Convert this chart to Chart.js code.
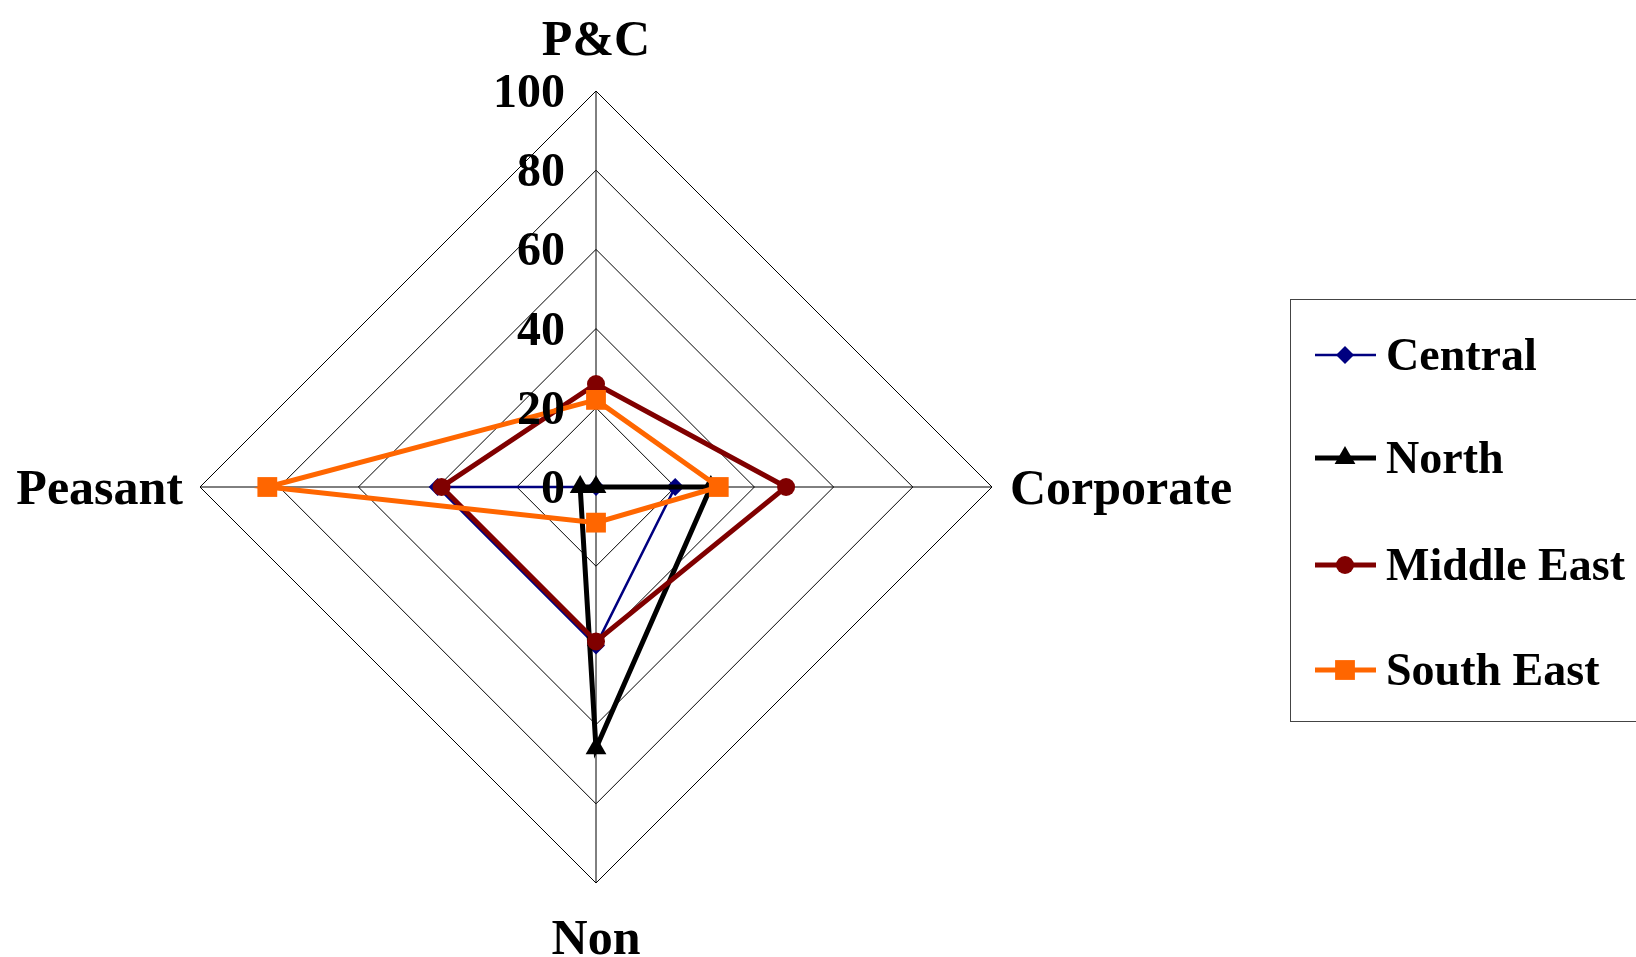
<!DOCTYPE html>
<html>
<head>
<meta charset="utf-8">
<script src="https://cdn.jsdelivr.net/npm/chart.js@4/dist/chart.umd.min.js"></script>
<style>
  html, body { margin: 0; padding: 0; background: #fff; }
  #wrap { width: 1636px; height: 957px; }
</style>
</head>
<body>
<div id="wrap"><canvas id="radar" width="1636" height="957"></canvas></div>
<script>
// axes, clockwise from the top
const categories = ['P&C', 'Corporate', 'Non', 'Peasant'];
const tickValues = [0, 20, 40, 60, 80, 100];

const central    = [0, 20, 40, 40];
const north      = [0, 29, 66, 4];
const middleEast = [26, 48, 39, 39];
const southEast  = [22, 31, 9, 83];

const SERIF = "'Liberation Serif', 'Times New Roman', serif";

const series = [
  { label: 'Central',     data: central,    color: '#000080', width: 2.5, style: 'rectRot',  radius: 9,  order: 4 },
  { label: 'North',       data: north,      color: '#000000', width: 5,   style: 'triangle', radius: 12, order: 3 },
  { label: 'Middle East', data: middleEast, color: '#800000', width: 5,   style: 'circle',   radius: 9,  order: 2 },
  { label: 'South East',  data: southEast,  color: '#FF6600', width: 5,   style: 'rect',     radius: 14, order: 1 },
];

// fallback in case helpers aren't exposed on the UMD build
function marker(ctx, style, r, x, y) {
  if (Chart.helpers && Chart.helpers.drawPoint) {
    Chart.helpers.drawPoint(ctx, { pointStyle: style, radius: r, rotation: 0, borderWidth: 0 }, x, y);
    return;
  }
  ctx.beginPath();
  if (style === 'circle') ctx.arc(x, y, r, 0, Math.PI * 2);
  else if (style === 'rect') { const s = r * Math.SQRT1_2; ctx.rect(x - s, y - s, 2 * s, 2 * s); }
  else if (style === 'rectRot') { ctx.moveTo(x, y - r); ctx.lineTo(x + r, y); ctx.lineTo(x, y + r); ctx.lineTo(x - r, y); ctx.closePath(); }
  else if (style === 'triangle') {
    ctx.moveTo(x, y - r);
    ctx.lineTo(x + r * 0.866, y + r / 2);
    ctx.lineTo(x - r * 0.866, y + r / 2);
    ctx.closePath();
  }
  ctx.fill();
}

// axis titles, value ticks and the boxed legend are drawn by hand
const decorations = {
  id: 'decorations',
  beforeDraw(chart) {
    const ctx = chart.ctx;
    ctx.save();
    ctx.fillStyle = '#fff';
    ctx.fillRect(0, 0, chart.width, chart.height);
    ctx.restore();
  },
  afterDatasetsDraw(chart) {
    const ctx = chart.ctx;
    const r = chart.scales.r;
    ctx.save();
    ctx.fillStyle = '#000';
    ctx.textBaseline = 'alphabetic';

    // value ticks, right aligned just left of the top axis
    ctx.font = 'bold 48px ' + SERIF;
    ctx.textAlign = 'right';
    tickValues.forEach(v => {
      const y = r.yCenter - r.getDistanceFromCenterForValue(v);
      ctx.fillText(String(v), r.xCenter - 31, y + 16);
    });

    // category labels
    ctx.font = 'bold 50px ' + SERIF;
    const top = r.getPointPosition(0, r.drawingArea);
    ctx.textAlign = 'center';
    ctx.fillText(categories[0], top.x, top.y - 36);
    const right = r.getPointPosition(1, r.drawingArea);
    ctx.textAlign = 'left';
    ctx.fillText(categories[1], right.x + 18, right.y + 17);
    const bottom = r.getPointPosition(2, r.drawingArea);
    ctx.textAlign = 'center';
    ctx.fillText(categories[2], bottom.x, bottom.y + 71);
    const left = r.getPointPosition(3, r.drawingArea);
    ctx.textAlign = 'right';
    ctx.fillText(categories[3], left.x - 17, left.y + 17);

    // legend box
    ctx.font = 'bold 46px ' + SERIF;
    ctx.strokeStyle = '#444';
    ctx.lineWidth = 1;
    ctx.strokeRect(1290.5, 299.5, 400, 422);
    const rows = [355, 458, 565, 670];
    series.forEach((s, i) => {
      const y = rows[i];
      ctx.strokeStyle = s.color;
      ctx.lineWidth = s.width;
      ctx.beginPath();
      ctx.moveTo(1315, y);
      ctx.lineTo(1376, y);
      ctx.stroke();
      ctx.fillStyle = s.color;
      ctx.lineWidth = 0;
      marker(ctx, s.style, s.radius, 1345, y);
      ctx.fillStyle = '#000';
      ctx.textAlign = 'left';
      ctx.fillText(s.label, 1386, y + 15);
    });
    ctx.restore();
  }
};

new Chart(document.getElementById('radar'), {
  type: 'radar',
  data: {
    labels: categories,
    datasets: series.map(s => ({
      label: s.label,
      data: s.data,
      order: s.order,
      borderColor: s.color,
      backgroundColor: s.color,
      borderWidth: s.width,
      fill: false,
      tension: 0,
      pointStyle: s.style,
      pointRadius: s.radius,
      pointBorderWidth: 0,
      pointBackgroundColor: s.color,
      pointBorderColor: s.color,
    })),
  },
  options: {
    responsive: false,
    animation: false,
    layout: { padding: { left: 150, right: 594, top: 91, bottom: 74 } },
    plugins: { legend: { display: false }, tooltip: { enabled: false } },
    elements: { line: { borderJoinStyle: 'miter' } },
    scales: {
      r: {
        min: 0,
        max: 100,
        ticks: { stepSize: 20, display: false },
        pointLabels: { display: false },
        grid: { color: '#000', lineWidth: 1 },
        angleLines: { color: '#000', lineWidth: 1 },
      },
    },
  },
  plugins: [decorations],
});
</script>
</body>
</html>
